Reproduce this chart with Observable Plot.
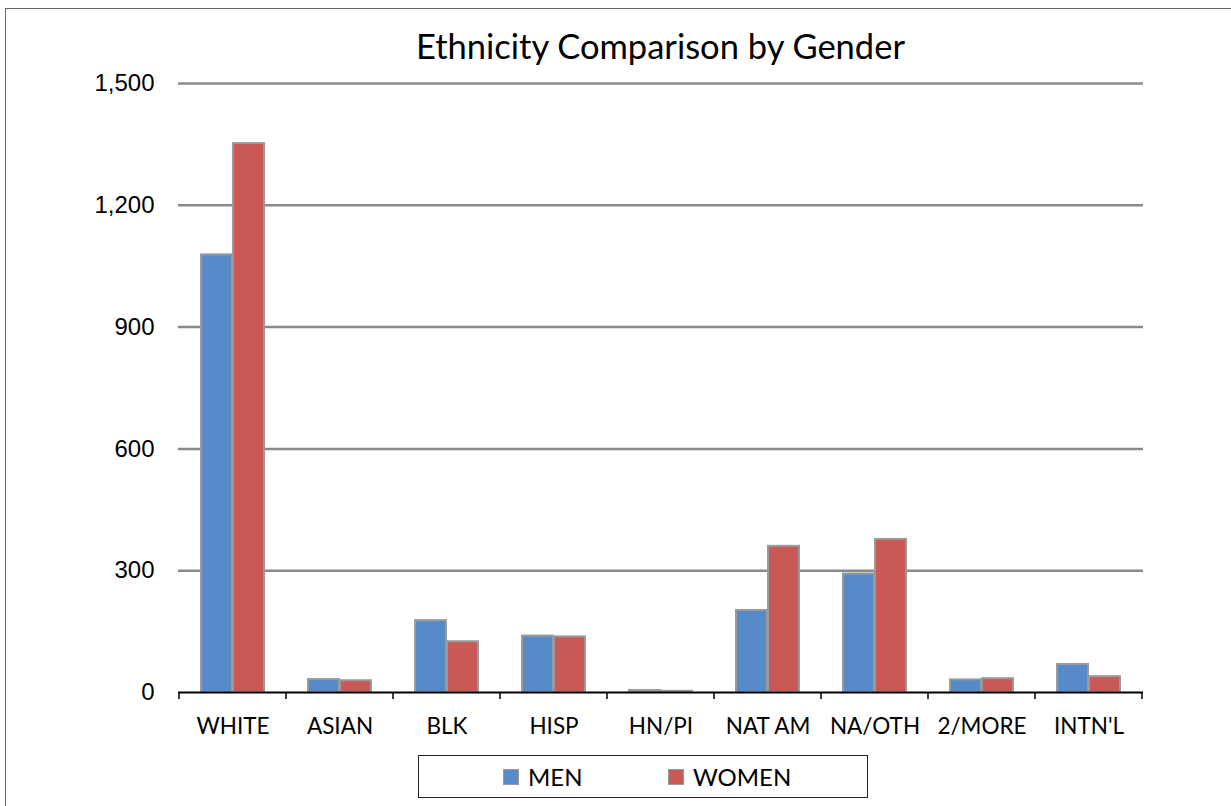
<!DOCTYPE html>
<html>
<head>
<meta charset="utf-8">
<script src="https://cdn.jsdelivr.net/npm/d3@7"></script>
<script src="https://cdn.jsdelivr.net/npm/@observablehq/plot@0.6"></script>
<style>
  html, body { margin: 0; padding: 0; background: #fff; overflow: hidden; width: 1231px; height: 806px; }
  #frame { position: absolute; left: 5px; top: 8px; width: 1400px; height: 1000px; border: 1.5px solid #666; box-sizing: border-box; }
  #title { position: absolute; left: 178px; width: 965px; top: 25px; text-align: center; font-family: Lato, sans-serif; font-size: 34.5px; color: #000; }
  #chart { position: absolute; left: 0; top: 0; }
  #legend { position: absolute; left: 418px; top: 755px; width: 450px; height: 43px; border: 1.5px solid #222; box-sizing: border-box; font-family: Lato, sans-serif; font-size: 24px; }
  .item { position: absolute; top: 6px; display: flex; align-items: center; }
  .sw { width: 14px; height: 14px; border: 1px solid #999; margin-right: 9px; }
</style>
</head>
<body>
<div id="frame"></div>
<div id="chart"></div>
<div id="title">Ethnicity Comparison by Gender</div>
<div id="legend"></div>
<script>
const categories = ["WHITE", "ASIAN", "BLK", "HISP", "HN/PI", "NAT AM", "NA/OTH", "2/MORE", "INTN'L"];
const men   = [1078, 32, 177, 139, 5, 202, 292, 31, 69];
const women = [1352, 29, 125, 137, 3, 360, 377, 34, 39];
const seriesNames = ["MEN", "WOMEN"];
const seriesColors = ["#568AC8", "#CA5955"];
const yTicks = [0, 300, 600, 900, 1200, 1500];

const rows = [];
categories.forEach((c, i) => {
  rows.push({category: c, gender: "MEN", value: men[i]});
  rows.push({category: c, gender: "WOMEN", value: women[i]});
});

const boundaryTicks = (index, scales) => {
  const x = scales.x, y = scales.y;
  const g = d3.create("svg:g");
  if (!x || !y || !x.bandwidth) return g.node();
  const bw = x.bandwidth();
  const edges = categories.map(c => x(c)).concat([x(categories[categories.length - 1]) + bw]);
  const y0 = y(0);
  g.selectAll("line").data(edges).join("line")
    .attr("x1", d => d).attr("x2", d => d)
    .attr("y1", y0).attr("y2", y0 + 7)
    .attr("stroke", "#000").attr("stroke-width", 1.5);
  return g.node();
};

const chart = Plot.plot({
  width: 1231,
  height: 745,
  marginLeft: 178,
  marginRight: 88,
  marginTop: 83,
  marginBottom: 53,
  style: {fontFamily: "Lato, sans-serif", background: "transparent"},
  x: {domain: categories, padding: 0, label: null},
  y: {domain: [0, 1500], label: null},
  marks: [
    Plot.ruleY(yTicks.filter(d => d > 0), {stroke: "#8a8a8a", strokeWidth: 2.5}),
    Plot.barY(rows.filter(d => d.gender === "MEN"), {
      x: "category", y: "value", fill: seriesColors[0],
      stroke: "#9a9a9a", strokeWidth: 2, insetLeft: 22, insetRight: 54
    }),
    Plot.barY(rows.filter(d => d.gender === "WOMEN"), {
      x: "category", y: "value", fill: seriesColors[1],
      stroke: "#9a9a9a", strokeWidth: 2, insetLeft: 54, insetRight: 22
    }),
    Plot.ruleY([0], {stroke: "#000", strokeWidth: 2}),
    boundaryTicks,
    Plot.axisY({ticks: yTicks, tickFormat: d3.format(","), tickSize: 0, tickPadding: 24,
      fontSize: 24, fontFamily: "'Liberation Sans', Arial, sans-serif", fill: "#000"}),
    Plot.axisX({tickSize: 0, tickPadding: 26, fontSize: 22.5, fill: "#000"})
  ]
});
document.getElementById("chart").appendChild(chart);

const legend = document.getElementById("legend");
const legendPos = [84, 249];
seriesNames.forEach((s, i) => {
  const item = document.createElement("div");
  item.className = "item";
  item.style.left = legendPos[i] + "px";
  const sw = document.createElement("div");
  sw.className = "sw";
  sw.style.background = seriesColors[i];
  const t = document.createElement("span");
  t.textContent = s;
  item.appendChild(sw);
  item.appendChild(t);
  legend.appendChild(item);
});
</script>
</body>
</html>
